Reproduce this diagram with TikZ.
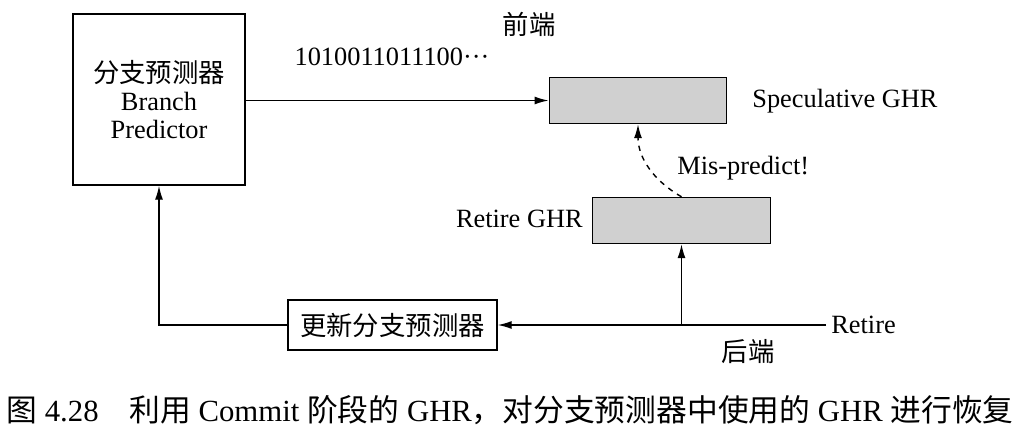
\documentclass[tikz,border=0pt]{standalone}
\usepackage{fontspec}
\setmainfont{Liberation Serif}
\newfontfamily\cjk{Noto Sans CJK SC}
\usetikzlibrary{calc,shapes,positioning}
\usetikzlibrary{arrows.meta}
\definecolor{ghrgray}{RGB}{208,208,208}

\begin{document}
\begin{tikzpicture}
    \tikzstyle{bnode} = [thick, draw, rectangle, align=center, inner sep = 2pt]
    \tikzstyle{gnode} = [thick, draw, rectangle, fill=ghrgray, minimum width = 3.55cm, minimum height = 0.92cm]
    \tikzstyle{lbl} = [font=\fontsize{15}{17}\selectfont, inner sep = 0pt]
    \tikzstyle{wire} = [thick, -{Latex[length=2.8mm,width=1.6mm]}]

    \useasboundingbox (0,0) rectangle (20.48,8.82);

    \node[bnode, minimum width = 3.44cm, minimum height = 3.42cm, font=\fontsize{15}{16}\selectfont] (bp) at (3.18,6.83) {{\cjk 分支预测器}\\Branch\\Predictor};
    \node[gnode] (ghrS) at (12.76,6.81) {};
    \node[gnode] (ghrR) at (13.63,4.41) {};
    \node[bnode, minimum width = 4.18cm, minimum height = 1.0cm, font=\fontsize{15}{17}\selectfont] (upd) at (7.85,2.32) {\cjk 更新分支预测器};

    \node[lbl] (bits) at (7.84,7.68) {1010011011100···};
    \node[lbl] (fe) at (10.58,8.34) {\cjk 前端};
    \node[lbl, anchor=west] (specl) at (15.04,6.8) {Speculative GHR};
    \node[lbl, anchor=east] (retl) at (11.66,4.44) {Retire GHR};
    \node[lbl, anchor=west] (mis) at (13.54,5.46) {Mis-predict!};
    \node[lbl] (be) at (14.96,1.78) {\cjk 后端};
    \node[lbl, anchor=west] (ret) at (16.62,2.32) {Retire};

    \coordinate (rin) at (16.52,2.32);
    \coordinate (fork) at (ghrR.south |- rin);

    \draw[wire] (bp.east |- ghrS) -- (ghrS.west);
    \draw[wire, dashed] (ghrR.north) to[out=150, in=-90] (ghrS.south);
    \draw[wire] (rin) -- (upd.east);
    \draw[wire] (fork) -- (ghrR.south);
    \draw[wire] (upd.west) -| (bp.south);

    % caption
    \node[font=\fontsize{17.5}{19}\selectfont, inner sep = 0pt] (cap) at (10.2,0.62) {{\cjk 图} 4.28\quad{\cjk 利用} Commit {\cjk 阶段的} GHR{\cjk ，对分支预测器中使用的} GHR {\cjk 进行恢复}};
\end{tikzpicture}
\end{document}
